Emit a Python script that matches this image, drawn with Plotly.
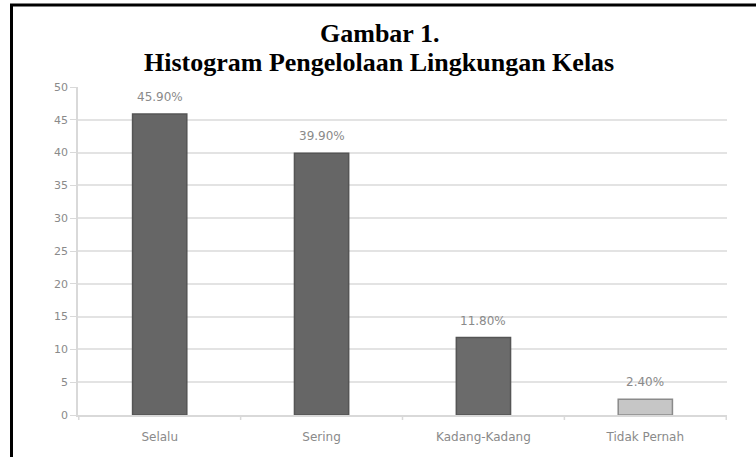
import plotly.graph_objects as go

categories = ["Selalu", "Sering", "Kadang-Kadang", "Tidak Pernah"]
values = [45.9, 39.9, 11.8, 2.4]
value_labels = ["45.90%", "39.90%", "11.80%", "2.40%"]
tick_vals = [0, 5, 10, 15, 20, 25, 30, 35, 40, 45, 50]
title_lines = ["Gambar 1.", "Histogram Pengelolaan Lingkungan Kelas"]

fill_colors = ["#666666", "#666666", "#6b6b6b", "#c6c6c6"]
line_colors = ["#555555", "#555555", "#555555", "#8a8a8a"]

W, H = 756, 457
L, R, T, B = 78, 29, 87, 42
PW, PH = W - L - R, H - T - B


def py(pix):
    return (H - B - pix) / PH


def px(pix):
    return (pix - L) / PW


fig = go.Figure()
fig.add_trace(go.Bar(
    x=categories, y=values,
    marker=dict(color=fill_colors, line=dict(color=line_colors, width=1.5)),
    width=0.335,
))

annotations = [
    dict(x=c, y=v, xref="x", yref="y", text=t, showarrow=False,
         yanchor="bottom", yshift=8,
         font=dict(family="DejaVu Sans", size=12, color="#8a8a8a"))
    for c, v, t in zip(categories, values, value_labels)
]
annotations += [
    dict(x=px(379), y=py(33), xref="paper", yref="paper", text="<b>%s</b>" % title_lines[0],
         showarrow=False, xanchor="center", yanchor="middle",
         font=dict(family="Liberation Serif", size=26, color="black")),
    dict(x=px(379), y=py(62), xref="paper", yref="paper", text="<b>%s</b>" % title_lines[1],
         showarrow=False, xanchor="center", yanchor="middle",
         font=dict(family="Liberation Serif", size=26, color="black")),
]

fig.update_layout(
    width=W, height=H,
    margin=dict(l=L, r=R, t=T, b=B),
    paper_bgcolor="white", plot_bgcolor="white",
    showlegend=False,
    annotations=annotations,
    xaxis=dict(
        showline=True, linecolor="#d9d9d9", linewidth=1.5,
        ticks="", ticklabelstandoff=10,
        tickfont=dict(family="DejaVu Sans", size=12, color="#8a8a8a"),
        showgrid=False,
    ),
    yaxis=dict(
        range=[0, 50], tickvals=tick_vals,
        showline=True, linecolor="#d9d9d9", linewidth=1.5,
        ticks="outside", ticklen=6, tickcolor="#d9d9d9",
        tickfont=dict(family="DejaVu Sans", size=11, color="#8a8a8a"),
        showgrid=True, gridcolor="#e3e3e3", gridwidth=1.5,
        zeroline=False,
    ),
    shapes=[
        dict(type="line", xref="paper", yref="paper", x0=px(10), x1=px(760), y0=py(5), y1=py(5),
             line=dict(color="black", width=3)),
        dict(type="line", xref="paper", yref="paper", x0=px(11.5), x1=px(11.5), y0=py(4), y1=py(470),
             line=dict(color="black", width=3)),
    ] + [
        dict(type="line", xref="x", yref="paper", x0=i + 0.5, x1=i + 0.5, y0=0, y1=py(H - B + 5),
             line=dict(color="#d9d9d9", width=1.5))
        for i in range(-1, len(categories))
    ],
)

fig.write_html("out.html", config={"displayModeBar": False},
               post_script="document.body.style.margin='0';")
